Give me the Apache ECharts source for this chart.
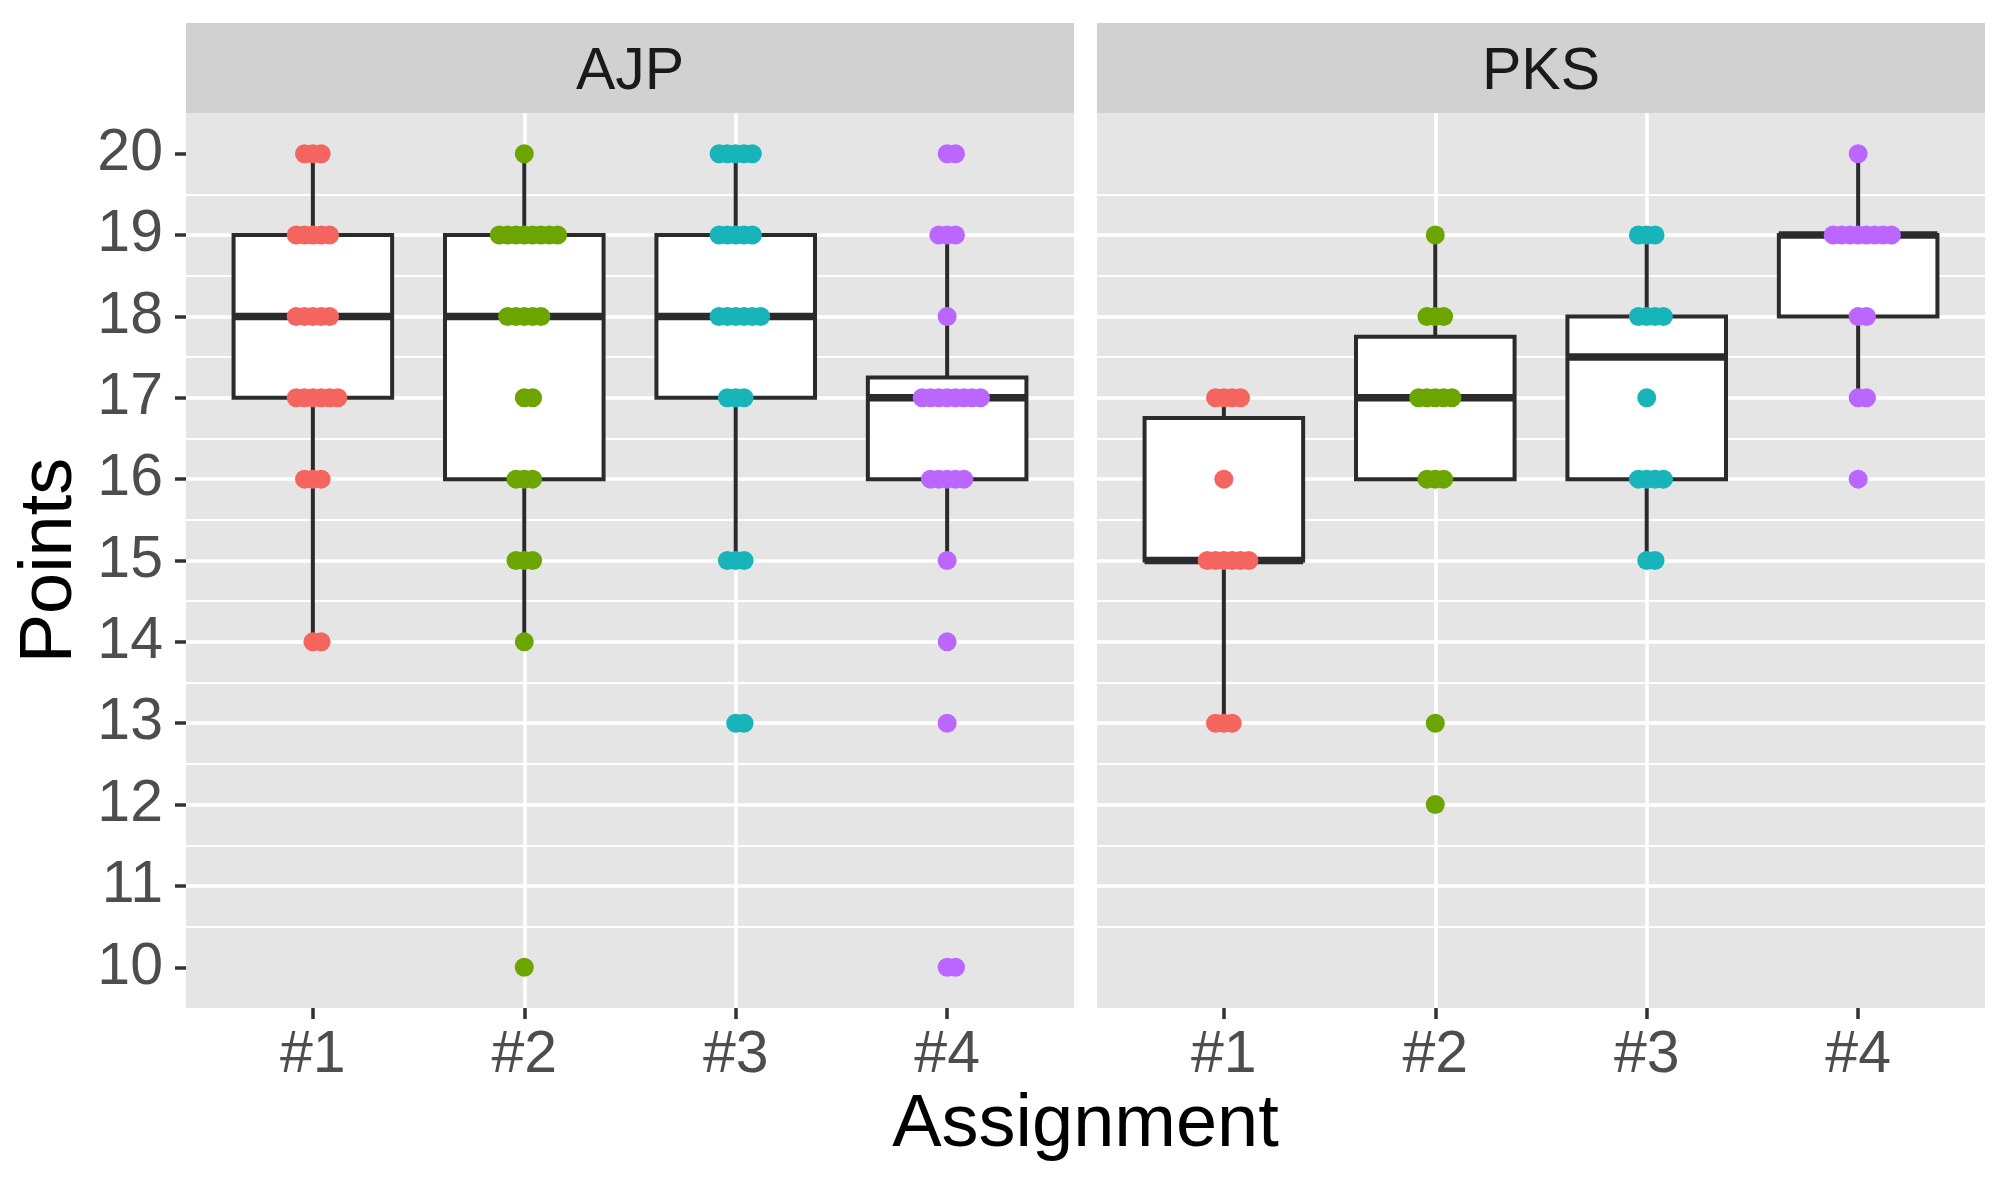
<!DOCTYPE html>
<html>
<head>
<meta charset="utf-8">
<title>Points by assignment</title>
<script src="https://cdn.jsdelivr.net/npm/echarts@6/dist/echarts.min.js"></script>
<style>
    html, body { margin: 0; padding: 0; background: #fff; }
    #chart { width: 2007px; height: 1181px; }
</style>
</head>
<body>
<div id="chart"></div>
<script>
// facets, x categories and y ticks
const panels = ['AJP', 'PKS'];
const assignments = ['#1', '#2', '#3', '#4'];
const yTicks = [10, 11, 12, 13, 14, 15, 16, 17, 18, 19, 20];

// scores per grader and assignment (one entry per dot)
const ajp1 = [20,20,20, 19,19,19,19,19, 18,18,18,18,18, 17,17,17,17,17,17, 16,16,16, 14,14];
const ajp2 = [20, 19,19,19,19,19,19,19,19, 18,18,18,18,18, 17,17, 16,16,16, 15,15,15, 14, 10];
const ajp3 = [20,20,20,20,20, 19,19,19,19,19, 18,18,18,18,18,18, 17,17,17, 15,15,15, 13,13];
const ajp4 = [20,20, 19,19,19, 18, 17,17,17,17,17,17,17,17, 16,16,16,16,16, 15, 14, 13, 10,10];
const pks1 = [17,17,17,17, 16, 15,15,15,15,15,15, 13,13,13];
const pks2 = [19, 18,18,18, 17,17,17,17,17, 16,16,16, 13, 12];
const pks3 = [19,19,19, 18,18,18,18, 17, 16,16,16,16, 15,15];
const pks4 = [20, 19,19,19,19,19,19,19,19, 18,18, 17,17, 16];

const scores = [[ajp1, ajp2, ajp3, ajp4], [pks1, pks2, pks3, pks4]];
const dotColors = ['#F4655F', '#6CA400', '#17B4B9', '#BB67FF'];

const FONT = '"Liberation Sans", Arial, sans-serif';
const BOX_INK = '#2B2B2B';
const BOX_WIDTH = 0.75;     // in category units
const DOT_STEP = 0.0394;    // horizontal spacing of stacked dots, category units
const PANEL_LEFT = [186, 1097];
const PANEL_TOP = 113, PANEL_W = 888, PANEL_H = 895;

// ggplot-style (type 7) quantile
function quantile(sorted, p) {
    const h = (sorted.length - 1) * p;
    const lo = Math.floor(h);
    const next = lo + 1 < sorted.length ? sorted[lo + 1] : sorted[lo];
    return sorted[lo] + (h - lo) * (next - sorted[lo]);
}

function boxStats(values, x) {
    const s = values.slice().sort((a, b) => a - b);
    const q1 = quantile(s, 0.25), med = quantile(s, 0.5), q3 = quantile(s, 0.75);
    const iqr = q3 - q1;
    const lo = Math.min(...s.filter(v => v >= q1 - 1.5 * iqr));
    const hi = Math.max(...s.filter(v => v <= q3 + 1.5 * iqr));
    return [x, lo, q1, med, q3, hi];
}

// dots stacked sideways, "centerwhole" like geom_dotplot
function dotStack(values, x) {
    const counts = {};
    values.forEach(v => { counts[v] = (counts[v] || 0) + 1; });
    const pts = [];
    Object.keys(counts).forEach(k => {
        const n = counts[k];
        const first = n % 2 ? -(n - 1) / 2 : -(n / 2 - 1);
        for (let i = 0; i < n; i++) {
            pts.push([x + (first + i) * DOT_STEP, +k]);
        }
    });
    return pts;
}

function renderBox(params, api) {
    const x = api.value(0);
    const half = api.size([BOX_WIDTH, 0])[0] / 2;
    const lo = api.coord([x, api.value(1)]);
    const q1 = api.coord([x, api.value(2)]);
    const med = api.coord([x, api.value(3)]);
    const q3 = api.coord([x, api.value(4)]);
    const hi = api.coord([x, api.value(5)]);
    const ink = { stroke: BOX_INK, lineWidth: 4 };
    return {
        type: 'group',
        children: [
            { type: 'line', shape: { x1: lo[0], y1: lo[1], x2: q1[0], y2: q1[1] }, style: ink },
            { type: 'line', shape: { x1: q3[0], y1: q3[1], x2: hi[0], y2: hi[1] }, style: ink },
            { type: 'rect', shape: { x: q3[0] - half, y: q3[1], width: half * 2, height: q1[1] - q3[1] },
              style: { fill: '#fff', stroke: BOX_INK, lineWidth: 4 } },
            { type: 'line', shape: { x1: med[0] - half, y1: med[1], x2: med[0] + half, y2: med[1] },
              style: { stroke: BOX_INK, lineWidth: 7.5 } }
        ]
    };
}

const grids = [], xAxes = [], yAxes = [], series = [], graphics = [];

panels.forEach((name, p) => {
    grids.push({
        left: PANEL_LEFT[p], top: PANEL_TOP, width: PANEL_W, height: PANEL_H,
        show: true, backgroundColor: '#E5E5E5', borderWidth: 0
    });

    xAxes.push({
        gridIndex: p, type: 'value', min: 0.4, max: 4.6, minInterval: 1, maxInterval: 1,
        axisLine: { show: false },
        axisTick: { show: true, length: 11, customValues: [1, 2, 3, 4], lineStyle: { color: '#333', width: 3.5 } },
        axisLabel: {
            customValues: [1, 2, 3, 4], formatter: v => assignments[v - 1] || '',
            fontSize: 59, color: '#4D4D4D', fontFamily: FONT, margin: 18
        },
        splitLine: { show: true, showMinLine: false, showMaxLine: false, lineStyle: { color: '#fff', width: 3.5 } }
    });

    // major lines, ticks and labels
    yAxes.push({
        gridIndex: p, type: 'value', min: 9.5, max: 20.5, minInterval: 1, maxInterval: 1,
        axisLine: { show: false },
        axisTick: { show: p === 0, length: 11, customValues: yTicks, lineStyle: { color: '#333', width: 3.5 } },
        axisLabel: {
            show: p === 0, customValues: yTicks, fontSize: 59, color: '#4D4D4D', fontFamily: FONT, margin: 23,
            formatter: v => Number.isInteger(v) ? String(v) : ''
        },
        splitLine: { show: true, showMinLine: false, showMaxLine: false, lineStyle: { color: '#fff', width: 3.5 } }
    });
    // minor lines at the half points
    yAxes.push({
        gridIndex: p, type: 'value', position: 'right', min: 9.5, max: 20.5, interval: 1,
        axisLine: { show: false }, axisTick: { show: false }, axisLabel: { show: false },
        splitLine: { show: true, showMinLine: false, showMaxLine: false, lineStyle: { color: '#fff', width: 2 } }
    });

    series.push({
        type: 'custom', name: name + ' boxes', xAxisIndex: p, yAxisIndex: p * 2,
        encode: { x: 0, y: [1, 2, 3, 4, 5] },
        data: scores[p].map((vals, i) => boxStats(vals, i + 1)),
        renderItem: renderBox, z: 2
    });

    scores[p].forEach((vals, i) => {
        series.push({
            type: 'scatter', name: name + ' ' + assignments[i], xAxisIndex: p, yAxisIndex: p * 2,
            symbol: 'circle', symbolSize: 19,
            itemStyle: { color: dotColors[i], opacity: 1 },
            data: dotStack(vals, i + 1), z: 3
        });
    });

    // facet strip
    graphics.push({
        type: 'rect', shape: { x: PANEL_LEFT[p], y: 23, width: PANEL_W, height: PANEL_TOP - 23 },
        style: { fill: '#D1D1D1' }, silent: true
    });
    graphics.push({
        type: 'text', x: PANEL_LEFT[p] + PANEL_W / 2, y: 73,
        style: { text: name, font: '59px ' + FONT, fill: '#1A1A1A', textAlign: 'center', textVerticalAlign: 'middle' }
    });
});

graphics.push({
    type: 'text', x: (PANEL_LEFT[0] + PANEL_LEFT[1] + PANEL_W) / 2, y: 1126,
    style: { text: 'Assignment', font: '74px ' + FONT, fill: '#000', textAlign: 'center', textVerticalAlign: 'middle' }
});
graphics.push({
    type: 'text', x: 51, y: PANEL_TOP + PANEL_H / 2, rotation: Math.PI / 2,
    style: { text: 'Points', font: '74px ' + FONT, fill: '#000', textAlign: 'center', textVerticalAlign: 'middle' }
});

const chart = echarts.init(document.getElementById('chart'), null, { renderer: 'canvas' });
chart.setOption({
    backgroundColor: '#fff',
    animation: false,
    grid: grids,
    xAxis: xAxes,
    yAxis: yAxes,
    series: series,
    graphic: graphics
});
</script>
</body>
</html>
